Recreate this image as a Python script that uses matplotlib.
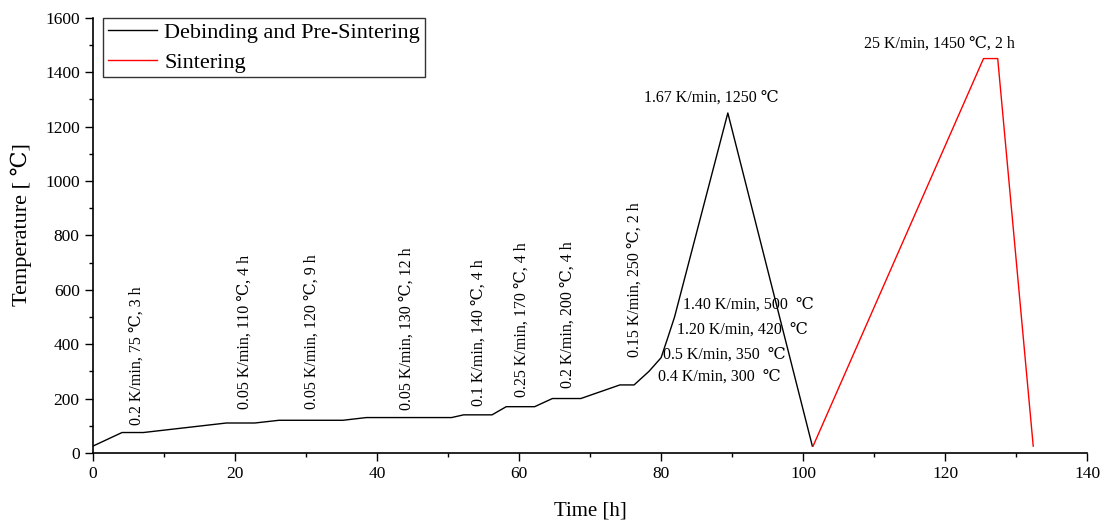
import matplotlib
matplotlib.use("Agg")
import matplotlib.pyplot as plt
from matplotlib.ticker import MultipleLocator

plt.rcParams['font.family'] = ['Liberation Serif', 'DejaVu Serif']
plt.rcParams['mathtext.fontset'] = 'stix'

# Debinding and pre-sintering profile (time in h, temperature in °C)
deb_time = [0, 4.1, 7.1, 18.8, 22.8, 26.2, 35.2, 38.5, 50.5, 52.2, 56.2, 58.2,
            62.2, 64.7, 68.7, 74.2, 76.2, 78.3, 80.0, 80.9, 81.9, 89.4, 101.3]
deb_temp = [25, 75, 75, 110, 110, 120, 120, 130, 130, 140, 140, 170,
            170, 200, 200, 250, 250, 300, 350, 420, 500, 1250, 25]

# Sintering profile
sin_time = [101.4, 125.4, 127.4, 132.4]
sin_temp = [25, 1450, 1450, 25]

# Rotated segment labels
rot_labels = ["0.2 K/min, 75 \u2103, 3 h", "0.05 K/min, 110 \u2103, 4 h",
              "0.05 K/min, 120 \u2103, 9 h", "0.05 K/min, 130 \u2103, 12 h",
              "0.1 K/min, 140 \u2103, 4 h", "0.25 K/min, 170 \u2103, 4 h",
              "0.2 K/min, 200 \u2103, 4 h", "0.15 K/min, 250 \u2103, 2 h"]
rot_x = [6.2, 21.4, 30.8, 44.2, 54.3, 60.4, 66.9, 76.3]
rot_y = [103, 162, 162, 158, 171, 206, 237, 354]

# Horizontal segment labels (left-aligned)
hor_labels = ["1.40 K/min, 500  \u2103", "1.20 K/min, 420  \u2103",
              "0.5 K/min, 350  \u2103", "0.4 K/min, 300  \u2103"]
hor_x = [83.1, 82.3, 80.3, 79.6]
hor_y = [544, 455, 360, 281]

# Peak labels (centered)
peak_labels = ["1.67 K/min, 1250 \u2103", "25 K/min, 1450 \u2103, 2 h"]
peak_x = [87.1, 119.2]
peak_y = [1308, 1504]

fig = plt.figure(figsize=(11.06, 5.23), dpi=100)
ax = fig.add_axes([0.084, 0.134, 0.899, 0.832])

ax.plot(deb_time, deb_temp, color='black', lw=1.0, label='Debinding and Pre-Sintering')
ax.plot(sin_time, sin_temp, color='red', lw=1.0, label='Sintering')

fs = 11.5
for s, x, y in zip(rot_labels, rot_x, rot_y):
    ax.text(x, y, s, rotation=90, ha='center', va='bottom', fontsize=fs)
for s, x, y in zip(hor_labels, hor_x, hor_y):
    ax.text(x, y, s, ha='left', va='center', fontsize=fs)
for s, x, y in zip(peak_labels, peak_x, peak_y):
    ax.text(x, y, s, ha='center', va='center', fontsize=fs)

ax.set_xlim(0, 140)
ax.set_ylim(0, 1600)
ax.xaxis.set_major_locator(MultipleLocator(20))
ax.xaxis.set_minor_locator(MultipleLocator(10))
ax.yaxis.set_major_locator(MultipleLocator(200))
ax.yaxis.set_minor_locator(MultipleLocator(100))
ax.tick_params(which='major', direction='out', length=6, width=1, labelsize=12.5)
ax.tick_params(which='minor', direction='out', length=3, width=1)
ax.spines['top'].set_visible(False)
ax.spines['right'].set_visible(False)
ax.spines['left'].set_linewidth(1.2)
ax.spines['bottom'].set_linewidth(1.2)

ax.set_xlabel('Time [h]', fontsize=15, labelpad=14)
ax.set_ylabel('Temperature [ \u2103]', fontsize=16)
ax.yaxis.set_label_coords(-0.061, 0.524)

leg = ax.legend(loc='upper left', bbox_to_anchor=(0.0105, 1.0), fontsize=16,
                frameon=True, fancybox=False, edgecolor='black', borderpad=0.2,
                handlelength=2.2, handletextpad=0.35, labelspacing=0.42,
                borderaxespad=0.0)
leg.get_frame().set_linewidth(1.0)

fig.savefig('out.png', dpi=100)
